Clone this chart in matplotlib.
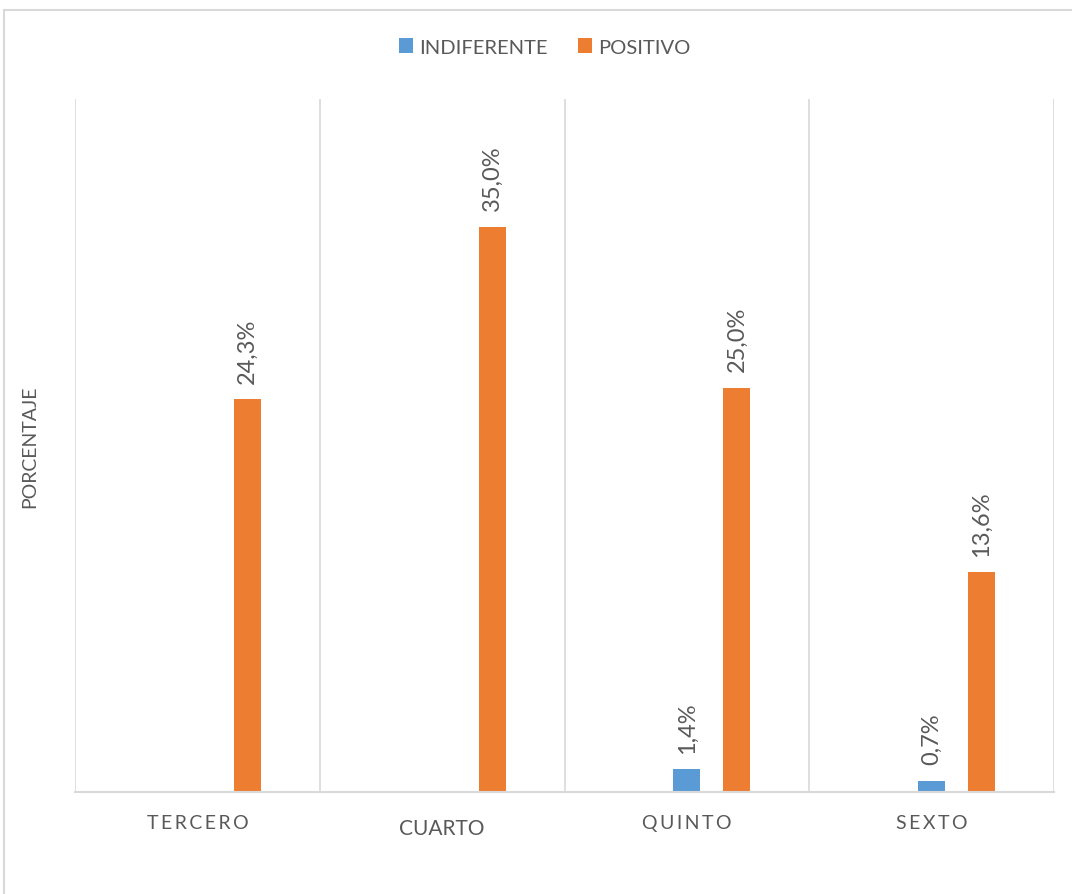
import numpy as np
import matplotlib.pyplot as plt
from matplotlib.patches import Rectangle

categories = ['TERCERO', 'CUARTO', 'QUINTO', 'SEXTO']
indiferente = [0, 0, 1.4, 0.7]
positivo = [24.3, 35.0, 25.0, 13.6]

blue = '#5b9bd5'
orange = '#ed7d31'
grey = '#595959'
plt.rcParams['font.family'] = ['Lato', 'DejaVu Sans']

fig = plt.figure(figsize=(10.72, 8.95), dpi=100)
# chart border like in Excel
fig.patches.append(Rectangle((4 / 1072, -0.01), 1.0, 1 - 11 / 895 + 0.01,
                             transform=fig.transFigure, fill=False,
                             edgecolor='#d9d9d9', linewidth=1.5))

ax = fig.add_axes([75 / 1072, 102 / 895, (1054 - 75) / 1072, (793 - 100) / 895])
x = np.arange(len(categories))
w = 0.11
b1 = ax.bar(x, indiferente, w, color=blue, label='INDIFERENTE')
b2 = ax.bar(x + 0.204, positivo, w, color=orange, label='POSITIVO')

for bars, vals in [(b1, indiferente), (b2, positivo)]:
    for rect, v in zip(bars, vals):
        if v <= 0:
            continue
        ax.annotate(('%.1f%%' % v).replace('.', ','),
                    (rect.get_x() + rect.get_width() / 2, v),
                    xytext=(0, 12), textcoords='offset points',
                    rotation=90, ha='center', va='bottom',
                    fontsize=17, color=grey)

ax.set_xlim(-0.5, len(categories) - 0.5)
ax.set_ylim(0, 42.9)
ax.set_yticks([])
ax.set_xticks(x)
spaced = ['\u2009'.join(c) if c != 'CUARTO' else c for c in categories]
ax.set_xticklabels(spaced, fontsize=14, color=grey)
ax.tick_params(axis='x', length=0, pad=16)
for lbl in ax.get_xticklabels():
    if lbl.get_text() == 'CUARTO':
        lbl.set_y(-0.006)
        lbl.set_fontsize(15)
ax.set_xticks(np.arange(len(categories) + 1) - 0.5, minor=True)
ax.tick_params(axis='x', which='minor', length=0)
ax.grid(True, which='minor', axis='x', color='#d9d9d9', linewidth=1.2)
for s in ['top', 'right', 'left']:
    ax.spines[s].set_visible(False)
ax.spines['bottom'].set_color('#d9d9d9')
ax.spines['bottom'].set_linewidth(1.5)

fig.text(30 / 1072, 1 - 447 / 895, 'PORCENTAJE', rotation=90, ha='center',
         va='center', fontsize=14, color=grey)

fig.legend(loc='center', bbox_to_anchor=(0.508, 1 - 48 / 895), ncol=2,
           frameon=False, fontsize=14.5, handlelength=0.7, handleheight=0.7,
           handletextpad=0.3, columnspacing=1.5, labelcolor=grey)

plt.savefig('out.png', dpi=100)
